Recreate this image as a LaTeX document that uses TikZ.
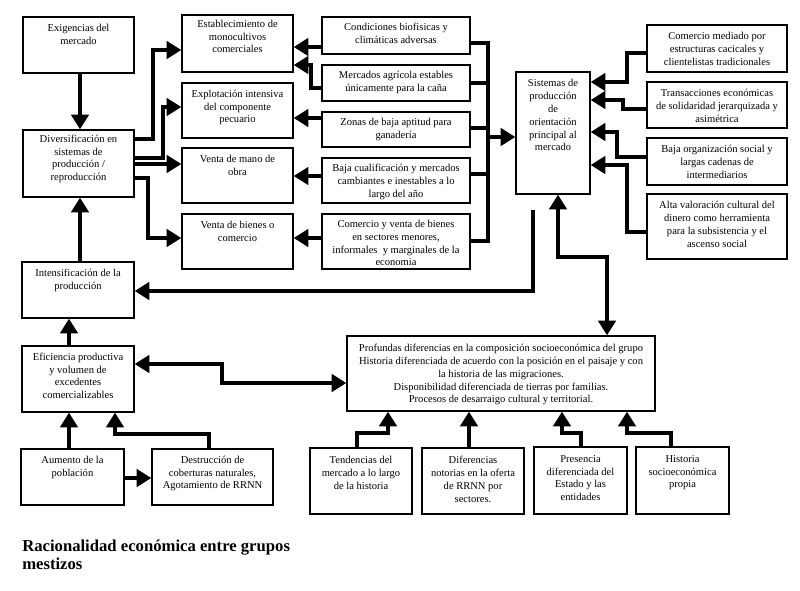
\documentclass[tikz,border=0pt]{standalone}
\usepackage{fontspec}
\setmainfont{Liberation Serif}
\usetikzlibrary{arrows.meta,fit}
\newcommand\bx[7][5.5pt]{%
 \coordinate (#2-nw) at (#3,#4);
 \coordinate (#2-se) at (#5,#6);
 \node[boxst, fit=(#2-nw)(#2-se)] (#2) {};
 \node[txt, anchor=north] (#2-t) at ([yshift=-#1]#2.north) {#7};
}
\begin{document}
\begin{tikzpicture}[x=0.75pt,y=-0.75pt,
 boxst/.style={draw, line width=1pt, inner sep=0pt},
 txt/.style={align=center, inner sep=0pt, font=\fontsize{7.9}{9.6}\selectfont},
 arr/.style={line width=2.6pt, -{Triangle[length=11pt,width=13pt]}},
 darr/.style={line width=2.6pt, {Triangle[length=11pt,width=13pt]}-{Triangle[length=11pt,width=13pt]}},
 ln/.style={line width=2.6pt},
 ttl/.style={align=left, inner sep=0pt, font=\fontsize{12.5}{13.5}\selectfont\bfseries}]
\fill[white] (0,0) rectangle (800,590);
\useasboundingbox (0,0) rectangle (800,590);

% left column
\bx{Exi}{23}{17}{134}{73}{Exigencias del\\mercado}
\bx[4pt]{Div}{23}{130}{134}{197}{Diversificación en\\sistemas de\\producción /\\reproducción}
\bx{Int}{22}{262}{134}{318}{Intensificación de la\\producción}
\bx{Efi}{22}{346}{134}{412}{Eficiencia productiva\\y volumen de\\excedentes\\comercializables}
\bx{Aum}{21}{449}{124}{505}{Aumento de la\\población}
\bx{Des}{152}{449}{273}{505}{Destrucción de\\coberturas naturales,\\Agotamiento de RRNN}

% second column
\bx[4pt]{Est}{182}{15}{293}{72}{Establecimiento de\\monocultivos\\comerciales}
\bx{Exp}{182}{83}{293}{138}{Explotación intensiva\\del componente\\pecuario}
\bx{VMO}{182}{148}{293}{203}{Venta de mano de\\obra}
\bx{VB}{182}{214}{293}{269}{Venta de bienes o\\comercio}

% third column
\bx[5pt]{Cond}{322}{17}{470}{54}{Condiciones biofisicas y\\climáticas adversas}
\bx[5pt]{Merc}{322}{65}{470}{101}{Mercados agrícola estables\\únicamente para la caña}
\bx[5pt]{Zon}{322}{112}{470}{147}{Zonas de baja aptitud para\\ganadería}
\bx[5pt]{Baja}{322}{158}{470}{203}{Baja cualificación y mercados\\cambiantes e inestables a lo\\largo del año}
\bx[5pt]{Com}{322}{214}{470}{269}{Comercio y venta de bienes\\en sectores menores,\\informales\ \ y marginales de la\\economia}

% Sistemas and right column
\bx[6pt]{Sis}{516}{72}{590}{194}{Sistemas de\\producción\\de\\orientación\\principal al\\mercado}
\bx[6pt]{CM}{647}{25}{787}{72}{Comercio mediado por\\estructuras cacicales y\\clientelistas tradicionales}
\bx[6pt]{Tr}{647}{82}{787}{128}{Transacciones económicas\\de solidaridad jerarquizada y\\asimétrica}
\bx[6pt]{BO}{647}{138}{787}{185}{Baja organización social y\\largas cadenas de\\intermediarios}
\bx[6pt]{AV}{647}{194}{787}{259}{Alta valoración cultural del\\dinero como herramienta\\para la subsistencia y el\\ascenso social}

% Profundas and bottom row
\bx[6.5pt]{Prof}{347}{336}{655}{411}{Profundas diferencias en la composición socioeconómica del grupo\\Historia diferenciada de acuerdo con la posición en el paisaje y con\\la historia de las migraciones.\\Disponibilidad diferenciada de tierras por familias.\\Procesos de desarraigo cultural y territorial.}
\bx[6.5pt]{Tend}{310}{448}{412}{514}{Tendencias del\\mercado a lo largo\\de la historia}
\bx[6.5pt]{Dif}{422}{448}{524}{514}{Diferencias\\notorias en la oferta\\de RRNN por\\sectores.}
\bx[6.5pt]{Pres}{534}{447}{627}{514}{Presencia\\diferenciada del\\Estado y las\\entidades}
\bx[6.5pt]{Hist}{636}{447}{729}{514}{Historia\\socioeconómica\\propia}

% title
\node[ttl, anchor=north west] (title) at (22,540) {Racionalidad económica entre grupos\\mestizos};

% left column arrows
\draw[arr] (Exi.south -| 80,0) -- (Div.north -| 80,0);
\draw[arr] (Int.north -| 80,0) -- (Div.south -| 80,0);
\draw[arr] (Efi.north -| 69,0) -- (Int.south -| 69,0);
\draw[arr] (Aum.north -| 69,0) -- (Efi.south -| 69,0);
\draw[arr] (Aum.east |- 0,478) -- (Des.west |- 0,478);
\draw[arr] (Des.north -| 209,0) |- (115,434) -- (Efi.south -| 115,0);

% Diversificacion outputs
\draw[arr] (Div.east |- 0,139) -| (153,50) -- (Est.west |- 0,50);
\draw[arr] (Div.east |- 0,158) -| (163,107) -- (Exp.west |- 0,107);
\draw[arr] (Div.east |- 0,164) -- (VMO.west |- 0,164);
\draw[arr] (Div.east |- 0,178) -| (148,238) -- (VB.west |- 0,238);

% third column to second column
\draw[arr] (Cond.west |- 0,47) -- (Est.east |- 0,47);
\draw[arr] (Merc.west |- 0,88) -| (311,65) -- (Est.east |- 0,65);
\draw[arr] (Zon.west |- 0,118) -- (Exp.east |- 0,118);
\draw[arr] (Baja.west |- 0,176) -- (VMO.east |- 0,176);
\draw[arr] (Com.west |- 0,238) -- (VB.east |- 0,238);

% collector bar to Sistemas
\coordinate (bt) at (488,43);
\coordinate (bb) at (488,241);
\draw[ln] (Cond.east |- bt) -- (bt) -- (bb) -- (Com.east |- bb);
\draw[ln] (Merc.east |- 0,83) -- (488,83);
\draw[ln] (Zon.east |- 0,128) -- (488,128);
\draw[ln] (Baja.east |- 0,174) -- (488,174);
\draw[arr] (488,137) -- (Sis.west |- 0,137);

% right column to Sistemas
\draw[arr] (CM.west |- 0,53) -| (627,82) -- (Sis.east |- 0,82);
\draw[arr] (Tr.west |- 0,109) -| (623,100) -- (Sis.east |- 0,100);
\draw[arr] (BO.west |- 0,157) -| (617,132) -- (Sis.east |- 0,132);
\draw[arr] (AV.west |- 0,232) -| (627,165) -- (Sis.east |- 0,165);

% Sistemas <-> Profundas
\draw[darr] (Sis.south -| 558,0) |- (607,257) -- (Prof.north -| 607,0);
% to Intensificacion
\coordinate (c1) at (533,210);
\draw[arr] (c1) |- (Int.east |- 0,291);
% Eficiencia <-> Profundas
\draw[darr] (Efi.east |- 0,364) -| (222,383) -- (Prof.west |- 0,383);

% bottom row to Profundas
\draw[arr] (Tend.north -| 357,0) |- (388,433) -- (Prof.south -| 388,0);
\draw[arr] (Dif.north -| 469,0) -- (Prof.south -| 469,0);
\draw[arr] (Pres.north -| 581,0) |- (562,433) -- (Prof.south -| 562,0);
\draw[arr] (Hist.north -| 671,0) |- (627,433) -- (Prof.south -| 627,0);
\end{tikzpicture}
\end{document}
